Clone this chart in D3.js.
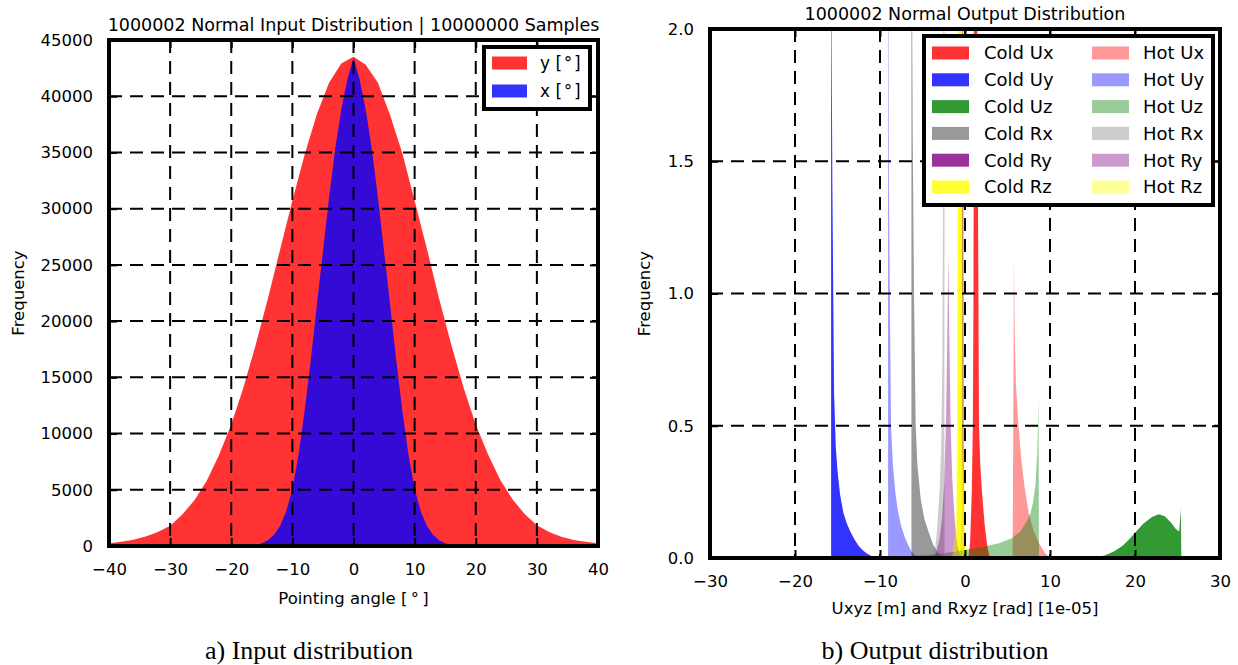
<!DOCTYPE html>
<html>
<head>
<meta charset="utf-8">
<script src="https://cdn.jsdelivr.net/npm/d3@7"></script>
<style>
    body { margin: 0; background: #fff; }
    svg text { font-family: "DejaVu Sans", sans-serif; fill: #000; }
    .caption { font-family: "Liberation Serif", "Times New Roman", serif; }
</style>
</head>
<body>
<div id="chart"></div>
<script>
// ---- Input distribution (left) ----
const angleBins = [-40, -38, -36, -34, -32, -30, -28, -26, -24, -22, -20, -18, -16, -14, -12, -10, -8, -6, -4, -2,
    0, 2, 4, 6, 8, 10, 12, 14, 16, 18, 20, 22, 24, 26, 28, 30, 32, 34, 36, 38, 40];
const yAngleCounts = [250, 380, 560, 850, 1250, 1800, 2800, 4100, 5800, 8100, 10800, 14100, 17900, 22000, 26400,
    30700, 34800, 38400, 41200, 42900, 43500, 42800, 41200, 38300, 34900, 30700, 26450, 22000, 17900, 14100,
    10800, 8150, 5900, 4150, 2850, 1850, 1250, 830, 540, 370, 240];
const xAngleBins = [-18, -17, -16, -15, -14, -13, -12, -11, -10, -9, -8, -7, -6, -5, -4, -3, -2, -1,
    0, 1, 2, 3, 4, 5, 6, 7, 8, 9, 10, 11, 12, 13, 14, 15, 16, 17, 18];
const xAngleCounts = [0, 30, 100, 250, 520, 1000, 1800, 3100, 5100, 8100, 12000, 16500, 21400, 26200, 31000,
    35300, 38800, 41500, 43400, 41500, 38800, 35300, 31000, 26200, 21400, 16500, 12000, 8100, 5100, 3100,
    1800, 1000, 520, 250, 100, 30, 0];
const inputXTicks = [-40, -30, -20, -10, 0, 10, 20, 30, 40];
const inputYTicks = [0, 5000, 10000, 15000, 20000, 25000, 30000, 35000, 40000, 45000];

// ---- Output distribution (right), [value 1e-05, frequency] ----
const coldUx = [[0.4, 0], [0.6, 0.06], [0.8, 0.25], [0.92, 0.5], [1.0, 1.0], [1.06, 2.6], [1.37, 2.6], [1.55, 1.2],
    [1.65, 0.5], [1.8, 0.35], [2.0, 0.25], [2.3, 0.13], [2.6, 0.05], [2.9, 0]];
const coldUy = [[-15.75, 0], [-15.75, 3.0], [-15.7, 2.0], [-15.6, 1.4], [-15.5, 1.0], [-15.4, 0.62], [-15.2, 0.42],
    [-15.0, 0.33], [-14.7, 0.24], [-14.3, 0.17], [-13.9, 0.13], [-13.5, 0.1], [-13.0, 0.07], [-12.5, 0.045],
    [-12.0, 0.028], [-11.5, 0.016], [-11.0, 0.008], [-10.5, 0.003], [-10.0, 0]];
const coldUz = [[15.3, 0], [16.5, 0.01], [17.5, 0.025], [18.5, 0.045], [19.3, 0.07], [20.0, 0.095], [21.0, 0.13],
    [22.0, 0.155], [22.8, 0.165], [23.5, 0.158], [24.2, 0.135], [24.8, 0.11], [25.2, 0.1], [25.3, 0.14],
    [25.4, 0.19], [25.45, 0]];
const coldRx = [[-6.3, 0], [-6.3, 2.6], [-6.15, 1.6], [-6.0, 1.0], [-5.8, 0.5], [-5.6, 0.35], [-5.2, 0.22],
    [-4.8, 0.15], [-4.3, 0.1], [-3.8, 0.055], [-3.3, 0.025], [-2.8, 0.008], [-2.3, 0]];
const coldRy = [[-0.6, 0], [-0.4, 0.15], [-0.33, 2.6], [-0.25, 2.6], [-0.15, 0.15], [0.05, 0]];
const coldRz = [[-1.3, 0], [-1.0, 0.08], [-0.85, 0.4], [-0.78, 2.6], [-0.4, 2.6], [-0.3, 0.4], [-0.1, 0.08], [0.1, 0]];
const hotUx = [[5.6, 0], [5.65, 0.3], [5.72, 0.8], [5.76, 1.14], [5.85, 0.85], [6.0, 0.65], [6.3, 0.5], [6.6, 0.38],
    [7.0, 0.27], [7.5, 0.17], [8.0, 0.11], [8.5, 0.07], [9.0, 0.04], [9.5, 0.015], [10.0, 0.004], [10.3, 0]];
const hotUy = [[-9.05, 0], [-9.05, 2.6], [-8.95, 1.4], [-8.85, 1.0], [-8.7, 0.5], [-8.5, 0.36], [-8.2, 0.25],
    [-7.9, 0.18], [-7.5, 0.12], [-7.1, 0.08], [-6.7, 0.05], [-6.3, 0.025], [-5.9, 0.01], [-5.4, 0.003], [-5.0, 0]];
const hotUz = [[-9.5, 0], [-9.0, 0.002], [-7.0, 0.006], [-5.0, 0.01], [-3.0, 0.016], [-1.0, 0.025], [0.0, 0.03],
    [2.0, 0.042], [4.0, 0.056], [5.5, 0.075], [6.5, 0.1], [7.25, 0.137], [7.7, 0.17], [8.0, 0.21], [8.3, 0.28],
    [8.5, 0.4], [8.6, 0.52], [8.65, 0.61], [8.7, 0]];
const hotRx = [[-4.2, 0], [-3.8, 0.01], [-3.5, 0.04], [-3.3, 0.1], [-3.0, 0.25], [-2.8, 0.42], [-2.68, 0.7],
    [-2.6, 1.2], [-2.52, 2.6], [-2.42, 2.6], [-2.42, 0]];
const hotRy = [[-3.8, 0], [-3.4, 0.02], [-3.0, 0.07], [-2.7, 0.15], [-2.45, 0.28], [-2.25, 0.5], [-2.1, 0.8],
    [-1.95, 1.15], [-1.85, 0.85], [-1.7, 0.52], [-1.5, 0.3], [-1.2, 0.14], [-0.9, 0.05], [-0.6, 0.012], [-0.3, 0]];
const hotRz = [[-1.5, 0], [-1.1, 0.1], [-0.95, 0.5], [-0.9, 2.6], [-0.25, 2.6], [-0.15, 0.5], [0.05, 0.1], [0.3, 0]];

const outputNames = ['Ux', 'Uy', 'Uz', 'Rx', 'Ry', 'Rz'];
const outputColors = ['#ff0000', '#0000ff', '#008000', '#808080', '#800080', '#ffff00'];
const coldSeries = [coldUx, coldUy, coldUz, coldRx, coldRy, coldRz];
const hotSeries = [hotUx, hotUy, hotUz, hotRx, hotRy, hotRz];
const outputXTicks = [-30, -20, -10, 0, 10, 20, 30];
const outputYTicks = [0, 0.5, 1.0, 1.5, 2.0];

const W = 1238, H = 665;
const svg = d3.select('#chart').append('svg')
    .attr('width', W)
    .attr('height', H);
svg.append('rect').attr('width', W).attr('height', H).attr('fill', '#fff');

// Draws grid, frame, inward ticks and tick labels for one panel
function drawFrame(p, x, y, xTicks, yTicks, yFmt) {
    const g = svg.append('g');
    const xInner = xTicks.slice(1, -1);
    const yInner = yTicks.slice(1, -1);

    // dashed grid (on top of the fills, as in the original)
    g.selectAll('.vgrid').data(xInner).enter().append('line')
        .attr('x1', d => x(d)).attr('x2', d => x(d))
        .attr('y1', p.top).attr('y2', p.bottom)
        .attr('stroke', '#000').attr('stroke-width', 2).attr('stroke-dasharray', '13,8');
    g.selectAll('.hgrid').data(yInner).enter().append('line')
        .attr('x1', p.left).attr('x2', p.right)
        .attr('y1', d => y(d)).attr('y2', d => y(d))
        .attr('stroke', '#000').attr('stroke-width', 2).attr('stroke-dasharray', '13,8');

    const styleAxis = sel => {
        sel.select('.domain').remove();
        sel.selectAll('.tick line').attr('stroke', '#000').attr('stroke-width', 2);
        sel.selectAll('.tick text').attr('font-size', '16.5px').attr('fill', '#000');
    };

    g.append('g').attr('transform', `translate(0,${p.bottom})`)
        .call(d3.axisBottom(x).tickValues(xTicks).tickSize(-8).tickPadding(17))
        .call(styleAxis);
    g.append('g').attr('transform', `translate(0,${p.top})`)
        .call(d3.axisTop(x).tickValues(xTicks).tickSize(-8).tickFormat(''))
        .call(styleAxis);
    g.append('g').attr('transform', `translate(${p.left},0)`)
        .call(d3.axisLeft(y).tickValues(yTicks).tickSize(-8).tickPadding(16).tickFormat(yFmt))
        .call(styleAxis);
    g.append('g').attr('transform', `translate(${p.right},0)`)
        .call(d3.axisRight(y).tickValues(yTicks).tickSize(-8).tickFormat(''))
        .call(styleAxis);

    g.append('rect')
        .attr('x', p.left).attr('y', p.top)
        .attr('width', p.right - p.left).attr('height', p.bottom - p.top)
        .attr('fill', 'none').attr('stroke', '#000').attr('stroke-width', 4);
}

function drawLegend(box, rows, fontSize) {
    const g = svg.append('g');
    g.append('rect')
        .attr('x', box.x).attr('y', box.y).attr('width', box.w).attr('height', box.h)
        .attr('fill', '#fff').attr('stroke', '#000').attr('stroke-width', 4);
    rows.forEach(r => {
        g.append('rect')
            .attr('x', r.px).attr('y', r.cy - 6.5).attr('width', r.pw).attr('height', 13)
            .attr('fill', r.color).attr('fill-opacity', r.opacity);
        g.append('text')
            .attr('x', r.tx).attr('y', r.cy).attr('dy', '0.35em')
            .attr('font-size', fontSize)
            .text(r.label);
    });
}

// ================= Left panel =================
const pL = { left: 109, right: 598, top: 40, bottom: 546 };
const xL = d3.scaleLinear().domain([-40, 40]).range([pL.left, pL.right]);
const yL = d3.scaleLinear().domain([0, 45000]).range([pL.bottom, pL.top]);

const areaL = (xs, ys) => d3.area()
    .x((d, i) => xL(xs[i]))
    .y0(yL(0))
    .y1((d, i) => yL(ys[i]))(ys);

svg.append('path').attr('d', areaL(angleBins, yAngleCounts))
    .attr('fill', '#ff0000').attr('fill-opacity', 0.8);
svg.append('path').attr('d', areaL(xAngleBins, xAngleCounts))
    .attr('fill', '#0000ff').attr('fill-opacity', 0.8);

drawFrame(pL, xL, yL, inputXTicks, inputYTicks, d3.format('d'));

svg.append('text')
    .attr('x', (pL.left + pL.right) / 2).attr('y', pL.top - 9)
    .attr('text-anchor', 'middle').attr('font-size', '17.5px')
    .text('1000002 Normal Input Distribution | 10000000 Samples');
svg.append('text')
    .attr('x', (pL.left + pL.right) / 2).attr('y', 604)
    .attr('text-anchor', 'middle').attr('font-size', '16.5px')
    .text('Pointing angle [\u2009\u00b0\u2009]');
svg.append('text')
    .attr('transform', `translate(24,${(pL.top + pL.bottom) / 2}) rotate(-90)`)
    .attr('text-anchor', 'middle').attr('font-size', '16.5px')
    .text('Frequency');

drawLegend({ x: 484, y: 47, w: 106, h: 62 }, [
    { px: 492, pw: 35, cy: 63, color: '#ff0000', opacity: 0.8, tx: 540, label: 'y [\u200a\u00b0\u200a]' },
    { px: 492, pw: 35, cy: 91, color: '#0000ff', opacity: 0.8, tx: 540, label: 'x [\u200a\u00b0\u200a]' }
], '17px');

// ================= Right panel =================
const pR = { left: 710, right: 1220, top: 29, bottom: 558 };
const xR = d3.scaleLinear().domain([-30, 30]).range([pR.left, pR.right]);
const yR = d3.scaleLinear().domain([0, 2]).range([pR.bottom, pR.top]);

svg.append('clipPath').attr('id', 'clipR')
    .append('rect')
    .attr('x', pR.left).attr('y', pR.top)
    .attr('width', pR.right - pR.left).attr('height', pR.bottom - pR.top);

const areaR = d3.area()
    .x(d => xR(d[0]))
    .y0(yR(0))
    .y1(d => yR(d[1]));

const fills = svg.append('g').attr('clip-path', 'url(#clipR)');
coldSeries.forEach((s, i) => {
    fills.append('path').attr('d', areaR(s))
        .attr('fill', outputColors[i]).attr('fill-opacity', 0.8);
});
hotSeries.forEach((s, i) => {
    fills.append('path').attr('d', areaR(s))
        .attr('fill', outputColors[i]).attr('fill-opacity', 0.4);
});

drawFrame(pR, xR, yR, outputXTicks, outputYTicks, d3.format('.1f'));

svg.append('text')
    .attr('x', (pR.left + pR.right) / 2).attr('y', pR.top - 9)
    .attr('text-anchor', 'middle').attr('font-size', '17.5px')
    .text('1000002 Normal Output Distribution');
svg.append('text')
    .attr('x', (pR.left + pR.right) / 2).attr('y', 614)
    .attr('text-anchor', 'middle').attr('font-size', '16.5px')
    .text('Uxyz [m] and Rxyz [rad] [1e-05]');
svg.append('text')
    .attr('transform', `translate(650,${(pR.top + pR.bottom) / 2}) rotate(-90)`)
    .attr('text-anchor', 'middle').attr('font-size', '16.5px')
    .text('Frequency');

const legendRows = [];
outputNames.forEach((n, i) => {
    const cy = 53 + i * 26.8;
    legendRows.push({ px: 932, pw: 37, cy, color: outputColors[i], opacity: 0.8, tx: 984, label: 'Cold ' + n });
    legendRows.push({ px: 1092, pw: 37, cy, color: outputColors[i], opacity: 0.4, tx: 1143, label: 'Hot ' + n });
});
drawLegend({ x: 924, y: 36, w: 289, h: 169 }, legendRows, '18px');

// ================= Captions =================
svg.append('text').attr('class', 'caption')
    .attr('x', 309).attr('y', 659)
    .attr('text-anchor', 'middle').attr('font-size', '26px')
    .text('a) Input distribution');
svg.append('text').attr('class', 'caption')
    .attr('x', 935).attr('y', 659)
    .attr('text-anchor', 'middle').attr('font-size', '26px')
    .text('b) Output distribution');
</script>
</body>
</html>
